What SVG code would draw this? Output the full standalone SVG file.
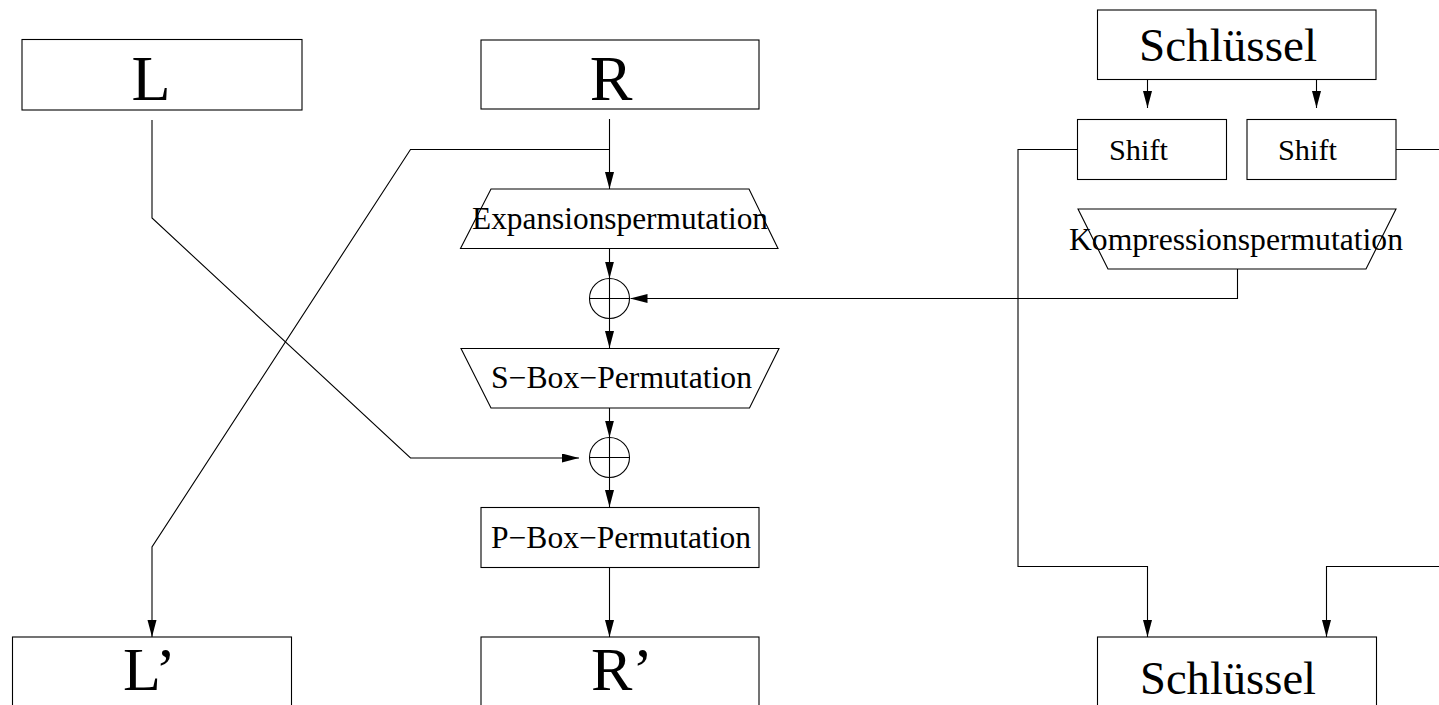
<svg xmlns="http://www.w3.org/2000/svg" width="1439" height="705" viewBox="0 0 1439 705">
<style>
.box{fill:#fff;stroke:#000;stroke-width:1.1}
.ln{fill:none;stroke:#000;stroke-width:1.1}
.big{font-family:"Liberation Serif","Times New Roman",serif;font-size:64px;fill:#000}
.bigb{font-family:"Liberation Serif","Times New Roman",serif;font-size:62px;fill:#000}
.key{font-family:"Liberation Serif","Times New Roman",serif;font-size:47px;fill:#000}
.lbl{font-family:"Liberation Serif","Times New Roman",serif;font-size:31px;fill:#000}
.sh{font-family:"Liberation Serif","Times New Roman",serif;font-size:30px;fill:#000}
</style>
<defs>
<marker id="arr" markerUnits="userSpaceOnUse" markerWidth="17" markerHeight="10" refX="17" refY="4.5" orient="auto">
<path d="M0,0 L17,4.5 L0,9 z" fill="#000"/>
</marker>
</defs>
<rect width="1439" height="705" fill="#fff"/>
<g id="connectors">
<path class="ln" d="M609.5,119 V189" marker-end="url(#arr)"/>
<path class="ln" d="M609.5,149.5 H410.5 L152,547 V637" marker-end="url(#arr)"/>
<path class="ln" d="M152,120 V218 L410.5,458 H579" marker-end="url(#arr)"/>
<path class="ln" d="M609.5,248 V278.5" marker-end="url(#arr)"/>
<path class="ln" d="M1237.5,269 V298.5 H630.5" marker-end="url(#arr)"/>
<path class="ln" d="M609.5,318.5 V348" marker-end="url(#arr)"/>
<path class="ln" d="M609.5,408 V437.5" marker-end="url(#arr)"/>
<path class="ln" d="M609.5,477.5 V507" marker-end="url(#arr)"/>
<path class="ln" d="M609.5,567 V637" marker-end="url(#arr)"/>
<path class="ln" d="M1147.5,79 V108" marker-end="url(#arr)"/>
<path class="ln" d="M1316.5,79 V108" marker-end="url(#arr)"/>
<path class="ln" d="M1077,149.5 H1018 V566.5 H1147.5 V637" marker-end="url(#arr)"/>
<path class="ln" d="M1396,149.5 H1440"/>
<path class="ln" d="M1440,566.5 H1326.5 V637" marker-end="url(#arr)"/>
</g>
<g id="L">
<rect class="box" x="22" y="39.5" width="280" height="70.5"/>
<text class="big" x="151" y="100" text-anchor="middle">L</text>
</g>
<g id="R">
<rect class="box" x="481" y="40" width="278" height="69"/>
<text class="big" x="611" y="100" text-anchor="middle">R</text>
</g>
<g id="expansion">
<polygon class="box" points="491,189 749,189 778,248.5 460.5,248.5"/>
<text class="lbl" x="472" y="228.5" textLength="296" lengthAdjust="spacingAndGlyphs">Expansionspermutation</text>
</g>
<g id="xor1">
<circle class="ln" cx="609.5" cy="298.5" r="20"/>
<path class="ln" d="M589.5,298.5 H629.5 M609.5,278.5 V318.5"/>
</g>
<g id="sbox">
<polygon class="box" points="461,348.5 779,348.5 749.5,408 491,408"/>
<text class="lbl" x="491" y="388" textLength="261" lengthAdjust="spacingAndGlyphs">S−Box−Permutation</text>
</g>
<g id="xor2">
<circle class="ln" cx="609.5" cy="457.5" r="20"/>
<path class="ln" d="M589.5,457.5 H629.5 M609.5,437.5 V477.5"/>
</g>
<g id="pbox">
<rect class="box" x="481" y="507.5" width="278" height="60"/>
<text class="lbl" x="491" y="548" textLength="260" lengthAdjust="spacingAndGlyphs">P−Box−Permutation</text>
</g>
<g id="Lprime">
<rect class="box" x="12.5" y="637" width="279" height="80"/>
<text class="bigb" x="123" y="690">L’</text>
</g>
<g id="Rprime">
<rect class="box" x="481" y="637" width="278" height="80"/>
<text class="bigb" x="591" y="690">R’</text>
</g>
<g id="key-top">
<rect class="box" x="1097.5" y="10" width="278.5" height="69.5"/>
<text class="key" x="1139" y="61" textLength="178" lengthAdjust="spacingAndGlyphs">Schlüssel</text>
</g>
<g id="shift1">
<rect class="box" x="1077.5" y="119.5" width="149" height="60"/>
<text class="sh" x="1109" y="160" textLength="59" lengthAdjust="spacingAndGlyphs">Shift</text>
</g>
<g id="shift2">
<rect class="box" x="1247" y="119.5" width="149" height="60"/>
<text class="sh" x="1278" y="160" textLength="59" lengthAdjust="spacingAndGlyphs">Shift</text>
</g>
<g id="kompression">
<polygon class="box" points="1078,209 1396,209 1366,269 1108,269"/>
<text class="lbl" x="1069" y="250" textLength="334" lengthAdjust="spacingAndGlyphs">Kompressionspermutation</text>
</g>
<g id="key-bottom">
<rect class="box" x="1097.5" y="637" width="279" height="80"/>
<text class="key" x="1140" y="694" textLength="176" lengthAdjust="spacingAndGlyphs">Schlüssel</text>
</g>
</svg>
